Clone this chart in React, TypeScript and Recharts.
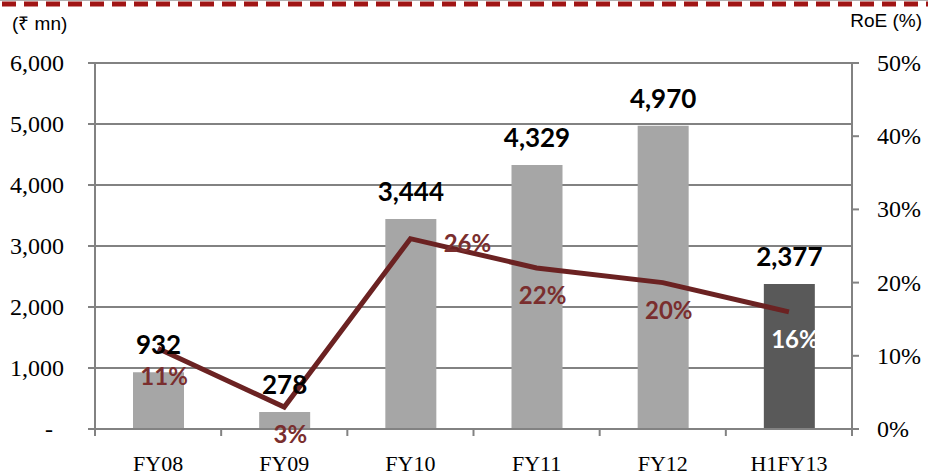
import {
    ComposedChart,
    Bar,
    Line,
    Cell,
    XAxis,
    YAxis,
    CartesianGrid,
    LabelList,
} from 'recharts';

const categories = ['FY08', 'FY09', 'FY10', 'FY11', 'FY12', 'H1FY13'];
const profit = [932, 278, 3444, 4329, 4970, 2377];
const roe = [11, 3, 26, 22, 20, 16];
const leftTicks = [0, 1000, 2000, 3000, 4000, 5000, 6000];
const rightTicks = [0, 10, 20, 30, 40, 50];

const data = categories.map((name, i) => ({ name, profit: profit[i], roe: roe[i] }));

const W = 928;
const H = 476;
const PLOT_LEFT = 95;
const PLOT_RIGHT = 852;
const PLOT_TOP = 63;
const PLOT_BOTTOM = 429;
const BAND = (PLOT_RIGHT - PLOT_LEFT) / categories.length;

const AXIS = '#828282';
const BAR = '#a6a6a6';
const BAR_LAST = '#595959';
const LINE = '#6b2222';
const LINE_LABEL = '#7a2e2e';
const SERIF = '"Liberation Serif", "Times New Roman", serif';
const LABEL_FONT = 'Lato, "Liberation Sans", sans-serif';
const HEAD_FONT = '"Liberation Sans Narrow", "Liberation Sans", Arial, sans-serif';

const XTick = (props: any) => {
    const { x, payload, index } = props;
    const last = index === categories.length - 1;
    return (
        <g>
            <line x1={x - BAND / 2} x2={x - BAND / 2} y1={PLOT_BOTTOM} y2={PLOT_BOTTOM + 7} stroke={AXIS} strokeWidth={2} />
            {last && (
                <line x1={x + BAND / 2} x2={x + BAND / 2} y1={PLOT_BOTTOM} y2={PLOT_BOTTOM + 7} stroke={AXIS} strokeWidth={2} />
            )}
            <text x={x} y={PLOT_BOTTOM + 42} textAnchor="middle" style={{ fontFamily: SERIF }} fontSize={22} fill="#000">
                {payload.value}
            </text>
        </g>
    );
};

const LeftTick = (props: any) => {
    const { x, y, payload } = props;
    const zero = payload.value === 0;
    return (
        <text
            x={zero ? x - 11 : x}
            y={y}
            dy={8}
            textAnchor="end"
            style={{ fontFamily: SERIF }}
            fontSize={24}
            fill="#000"
        >
            {zero ? '-' : payload.value.toLocaleString('en-US')}
        </text>
    );
};

const RightTick = (props: any) => {
    const { x, y, payload } = props;
    return (
        <text x={x} y={y} dy={8} textAnchor="start" style={{ fontFamily: SERIF }} fontSize={24} fill="#000">
            {payload.value}%
        </text>
    );
};

const RoeLabel = (props: any) => {
    const { x, y, value, index } = props;
    const isLast = index === categories.length - 1;
    const beside = index === 2;
    return (
        <text
            x={beside ? x + 57 : x + 6}
            y={beside ? y + 7 : y + 30}
            dominantBaseline="middle"
            textAnchor="middle"
            style={{ fontFamily: LABEL_FONT }}
            fontWeight={700}
            fontSize={24}
            fill={isLast ? '#ffffff' : LINE_LABEL}
        >
            {value}%
        </text>
    );
};

const App = () => {
    return (
        <div style={{ position: 'absolute', left: 0, top: 0, width: W, height: H, background: '#fff' }}>
            <svg width={W} height={8} style={{ position: 'absolute', left: 0, top: 0 }}>
                <line x1={0} x2={W} y1={0.5} y2={0.5} stroke="#b0b0b0" strokeWidth={1} />
                <line x1={2} x2={W} y1={4} y2={4} stroke="#a01515" strokeWidth={5} strokeDasharray="14 8" />
            </svg>
            <div
                style={{
                    position: 'absolute',
                    left: 12,
                    top: 10,
                    fontFamily: HEAD_FONT,
                    fontSize: 19,
                    color: '#000',
                }}
            >
                (₹ mn)
            </div>
            <div
                style={{
                    position: 'absolute',
                    right: 6,
                    top: 10,
                    fontFamily: HEAD_FONT,
                    fontSize: 19,
                    color: '#000',
                }}
            >
                RoE (%)
            </div>
            <ComposedChart
                width={W}
                height={H}
                data={data}
                margin={{ top: PLOT_TOP, right: 0, bottom: 0, left: 0 }}
                barCategoryGap={0}
            >
                <CartesianGrid yAxisId="left" vertical={false} stroke={AXIS} strokeWidth={2} />
                <XAxis
                    dataKey="name"
                    height={H - PLOT_BOTTOM}
                    axisLine={{ stroke: AXIS, strokeWidth: 2 }}
                    tickLine={false}
                    tick={<XTick />}
                    interval={0}
                />
                <YAxis
                    yAxisId="left"
                    width={PLOT_LEFT}
                    domain={[0, 6000]}
                    ticks={leftTicks}
                    axisLine={{ stroke: AXIS, strokeWidth: 2 }}
                    tickLine={{ stroke: AXIS, strokeWidth: 2 }}
                    tickSize={7}
                    tickMargin={24}
                    tick={<LeftTick />}
                />
                <YAxis
                    yAxisId="right"
                    orientation="right"
                    width={W - PLOT_RIGHT}
                    domain={[0, 50]}
                    ticks={rightTicks}
                    axisLine={{ stroke: AXIS, strokeWidth: 2 }}
                    tickLine={{ stroke: AXIS, strokeWidth: 2 }}
                    tickSize={7}
                    tickMargin={18}
                    tick={<RightTick />}
                />
                <Bar yAxisId="left" dataKey="profit" barSize={51} isAnimationActive={false}>
                    {data.map((d, i) => (
                        <Cell key={`cell-${i}`} fill={i === data.length - 1 ? BAR_LAST : BAR} />
                    ))}
                    <LabelList
                        dataKey="profit"
                        position="top"
                        offset={18}
                        formatter={(v: any) => Number(v).toLocaleString('en-US')}
                        fill="#000"
                        fontFamily={LABEL_FONT}
                        fontWeight={700}
                        fontSize={26}
                    />
                </Bar>
                <Line
                    yAxisId="right"
                    dataKey="roe"
                    stroke={LINE}
                    strokeWidth={5}
                    dot={false}
                    activeDot={false}
                    label={<RoeLabel />}
                    isAnimationActive={false}
                />
            </ComposedChart>
        </div>
    );
};

export default App;
